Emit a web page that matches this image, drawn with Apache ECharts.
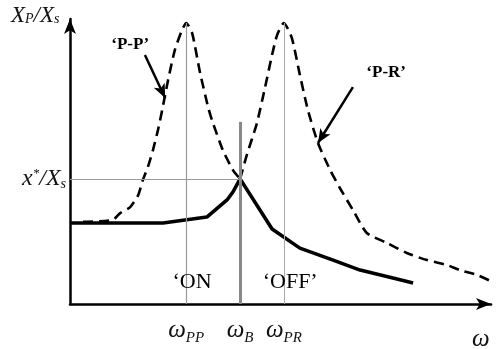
<!DOCTYPE html>
<html>
<head>
<meta charset="utf-8">
<script src="https://cdn.jsdelivr.net/npm/echarts@6/dist/echarts.min.js"></script>
<style>html,body{margin:0;padding:0;background:#fff}#c{width:500px;height:349px}</style>
</head>
<body>
<div id="c"></div>
<script>
// ---- data (arbitrary units) ----
const tickValues = [2.76, 4.04, 5.08];          // ωPP, ωB, ωPR
const tickSubs = ['PP', 'B', 'PR'];
const peakLevel = 9.86;
const crossLevel = 4.39;                         // x*/Xs
const bandLineTop = 6.39;
const solidResponse = [[0,2.84],[2.21,2.84],[3.25,3.05],[3.73,3.65],[3.87,3.93],[4.04,4.39],[4.80,2.63],[5.46,1.96],[6.25,1.54],[6.89,1.19],[7.67,0.91],[8.15,0.74]];
const ppResponse = [[0.31,2.88],[1.02,2.95],[1.19,3.19],[1.43,3.40],[1.62,3.82],[1.73,4.35],[1.85,4.81],[1.97,5.40],[2.09,6.11],[2.19,6.81],[2.33,7.86],[2.49,8.91],[2.66,9.61],[2.76,9.86],[2.90,9.51],[3.09,8.11],[3.28,6.91],[3.37,6.46],[3.63,5.40],[3.87,4.70],[4.04,4.39]];
const prResponse = [[4.04,4.39],[4.20,5.23],[4.44,6.35],[4.63,7.58],[4.80,8.74],[4.92,9.44],[5.08,9.86],[5.27,9.33],[5.46,8.04],[5.65,6.81],[5.89,5.65],[6.18,4.70],[6.41,4.07],[6.72,3.30],[7.05,2.49],[7.53,2.14],[8.00,1.79],[8.48,1.54],[8.95,1.37],[9.26,1.19],[9.67,1.02],[10.0,0.80]];
const textLabels = [
  {name: '‘P-P’', pos: [1.43, 9.09], bold: true, size: 17},
  {name: '‘P-R’', pos: [7.51, 8.11], bold: true, size: 17},
  {name: '‘ON', pos: [2.90, 0.77], bold: false, size: 22},
  {name: '‘OFF’', pos: [5.23, 0.77], bold: false, size: 22}
];
const ppArrow = [[1.78, 8.74], [2.26, 7.23]];
const prArrow = [[6.72, 7.61], [5.89, 5.65]];

const serif = '"Liberation Serif", "DejaVu Serif", serif';
const chart = echarts.init(document.getElementById('c'));
const axisLine = {show: true, lineStyle: {color: '#000', width: 2.5}, symbol: ['none', 'arrow'], symbolSize: [9, 15]};

chart.setOption({
  animation: false,
  grid: {left: 70, right: 9, top: 19, bottom: 45},
  xAxis: {
    type: 'value', min: 0, max: 10,
    axisLine: axisLine, splitLine: {show: false}, axisTick: {show: false},
    axisLabel: {
      customValues: tickValues, margin: 14,
      formatter: v => { const i = tickValues.indexOf(v); return '{w|ω}{s|' + tickSubs[i] + '}'; },
      rich: {
        w: {fontFamily: serif, fontStyle: 'italic', fontSize: 25, color: '#111', verticalAlign: 'bottom'},
        s: {fontFamily: serif, fontStyle: 'italic', fontSize: 15, color: '#111', verticalAlign: 'bottom', padding: [0,0,-3,0]}
      }
    }
  },
  yAxis: {
    type: 'value', min: 0, max: 10,
    axisLine: axisLine, splitLine: {show: false}, axisTick: {show: false},
    axisLabel: {
      customValues: [crossLevel], margin: 4,
      formatter: () => '{i|x}{p|*}{i|/X}{b|s}',
      rich: {
        i: {fontFamily: serif, fontStyle: 'italic', fontSize: 24, color: '#111'},
        p: {fontFamily: serif, fontStyle: 'italic', fontSize: 13, color: '#111', verticalAlign: 'top', padding: [0,0,9,0]},
        b: {fontFamily: serif, fontStyle: 'italic', fontSize: 14, color: '#111', verticalAlign: 'bottom', padding: [7,0,0,0]}
      }
    }
  },
  graphic: [
    {type: 'text', left: 11, top: 4, style: {rich: {
        i: {fontFamily: serif, fontStyle: 'italic', fontSize: 23, fill: '#111'},
        b: {fontFamily: serif, fontStyle: 'italic', fontSize: 14, fill: '#111', padding: [8,0,0,0]}
      }, text: '{i|X}{b|P}{i|/X}{b|s}'}},
    {type: 'text', left: 472, top: 327, style: {text: 'ω', fontFamily: serif, fontStyle: 'italic', fontSize: 25, fill: '#111'}}
  ],
  series: [
    {
      type: 'line', data: [], z: 1, silent: true,
      markLine: {
        silent: true, symbol: 'none', label: {show: false},
        data: [
          [{coord: [tickValues[0], 0], lineStyle: {color: '#999', width: 1.2, type: 'solid'}}, {coord: [tickValues[0], peakLevel]}],
          [{coord: [tickValues[2], 0], lineStyle: {color: '#aaa', width: 1, type: 'solid'}}, {coord: [tickValues[2], peakLevel]}],
          [{coord: [0, crossLevel], lineStyle: {color: '#999', width: 1.2, type: 'solid'}}, {coord: [tickValues[1], crossLevel]}],
          [{coord: [tickValues[1], 0], lineStyle: {color: '#888', width: 3, type: 'solid'}}, {coord: [tickValues[1], bandLineTop]}]
        ]
      }
    },
    {type: 'line', data: ppResponse, z: 3, showSymbol: false, smooth: 0.2, lineStyle: {color: '#000', width: 2.6, type: [10, 6]}},
    {type: 'line', data: prResponse, z: 3, showSymbol: false, smooth: 0.2, lineStyle: {color: '#000', width: 2.6, type: [10, 6]}},
    {type: 'line', data: solidResponse, z: 4, showSymbol: false, lineStyle: {color: '#000', width: 3.6}},
    {
      type: 'line', data: [], z: 5, silent: true,
      markLine: {
        silent: true, symbol: ['none', 'arrow'], symbolSize: [9, 14], label: {show: false},
        lineStyle: {color: '#000', width: 2.5, type: 'solid'},
        data: [
          [{coord: ppArrow[0]}, {coord: ppArrow[1]}],
          [{coord: prArrow[0]}, {coord: prArrow[1]}]
        ]
      }
    },
    {
      type: 'scatter', symbolSize: 0, z: 6, silent: true, itemStyle: {opacity: 1},
      data: textLabels.map(t => ({value: t.pos, name: t.name, label: {fontWeight: t.bold ? 'bold' : 'normal', fontSize: t.size}})),
      label: {show: true, position: 'inside', formatter: p => p.name, fontFamily: serif, color: '#000', opacity: 1}
    }
  ]
});
</script>
</body>
</html>
